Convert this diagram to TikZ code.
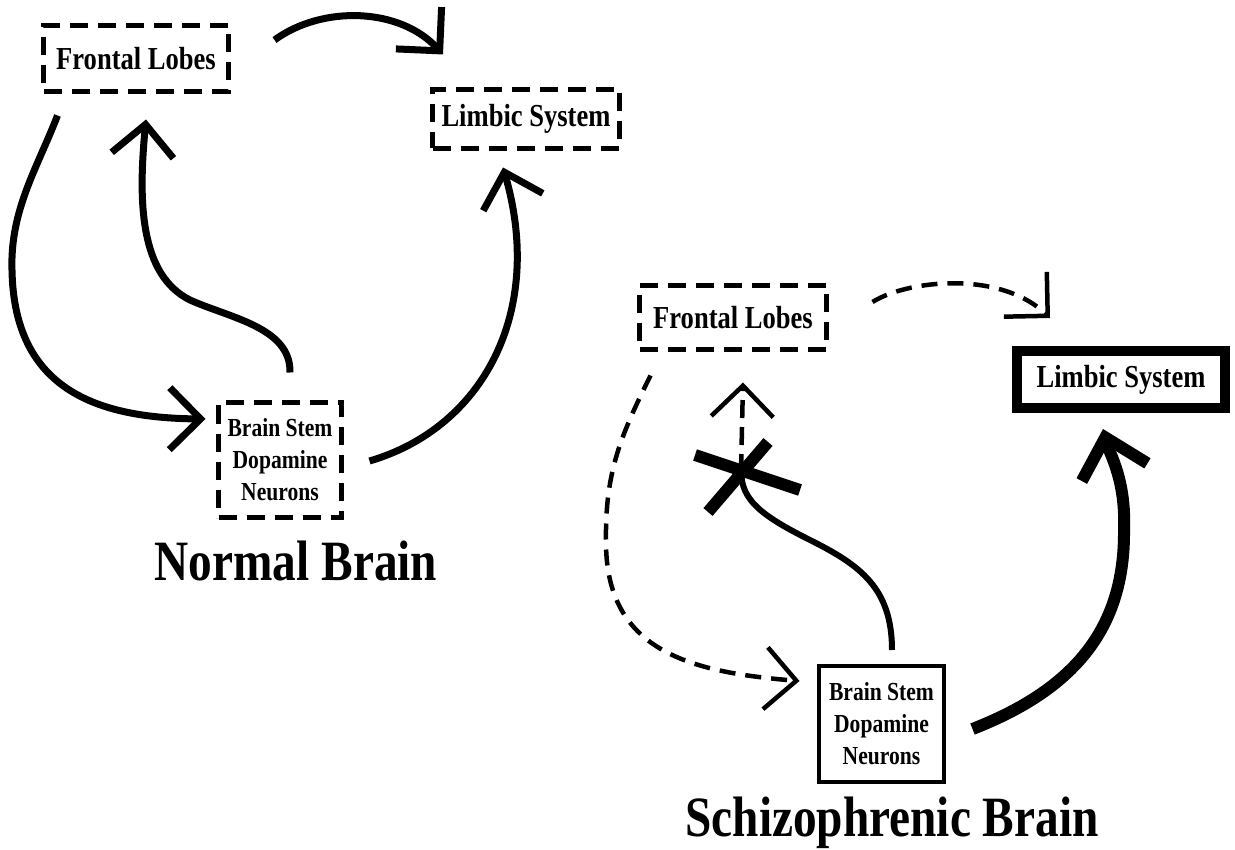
\documentclass[tikz,border=0pt]{standalone}
\usepackage{fontspec}
\newfontfamily\condserif[FakeStretch=0.83]{Liberation Serif}
\usetikzlibrary{arrows.meta}
\tikzset{
  barb/.tip={Straight Barb[length=31pt,width=62pt]},
  bigbarb/.tip={Straight Barb[length=36pt,width=68pt]},
  dashbox/.style={draw,line width=5pt,dash pattern=on 18pt off 10pt,inner sep=0pt,align=center},
  linebox/.style={draw,inner sep=0pt,align=center},
  boxlabel/.style={font=\condserif\bfseries\fontsize{32}{36}\selectfont},
  stemlabel/.style={font=\condserif\bfseries\fontsize{26}{32}\selectfont},
  brainlabel/.style={font=\condserif\bfseries\fontsize{57}{60}\selectfont,anchor=base},
  flow/.style={line width=7pt,-barb},
  weak/.style={line width=4.5pt,dash pattern=on 16pt off 10pt,-barb}
}

\begin{document}
\begin{tikzpicture}[x=1pt,y=-1pt]
\useasboundingbox (0,0) rectangle (1235,850);
\node[dashbox,boxlabel,minimum width=185pt,minimum height=66pt] (flN) at (136,58.5) {Frontal Lobes};
\node[dashbox,boxlabel,minimum width=187pt,minimum height=59pt] (lsN) at (526,119) {Limbic System};
\node[dashbox,stemlabel,minimum width=123pt,minimum height=115pt] (bsN) at (280,460) {Brain Stem\\Dopamine\\Neurons};
\node[brainlabel] (nb) at (296,580) {Normal Brain};
\draw[flow] ([shift={(43.5,-18.5)}]flN.east) .. controls +(48,-35) and +(-43,-47) .. ([shift={(-83,-32.5)}]lsN.north);
\draw[flow] ([shift={(10,-27.5)}]bsN.north) .. controls +(1,-45) and +(40,18) .. (190,300) .. controls +(-50,-25) and +(-8,83) .. ([shift={(10,25.5)}]flN.south);
\draw[flow] ([shift={(16.5,21.5)}]flN.south west) .. controls +(-20,52) and +(-2,-60) .. (12,270) .. controls +(2,120) and +(-108,-1) .. ([shift={(-10.5,-41)}]bsN.west);
\draw[flow] ([shift={(25.5,1)}]bsN.east) .. controls +(113,-33) and +(42,145) .. ([shift={(-23,16.5)}]lsN.south);

\node[dashbox,boxlabel,minimum width=187pt,minimum height=64pt] (flS) at (733,317.5) {Frontal Lobes};
\node[linebox,boxlabel,line width=10pt,minimum width=208pt,minimum height=57pt] (lsS) at (1121,379.5) {Limbic System};
\node[linebox,stemlabel,line width=4pt,minimum width=125pt,minimum height=116pt] (bsS) at (881.5,724) {Brain Stem\\Dopamine\\Neurons};
\node[brainlabel] (sb) at (892,836) {Schizophrenic Brain};
\coordinate (blk) at (741,472);
\draw[weak] ([shift={(43.5,-15.5)}]flS.east) .. controls +(35,-22) and +(-50,-48) .. ([shift={(-71,-28)}]lsS.north);
\draw[weak] ([shift={(13.5,23.5)}]flS.south west) .. controls +(-28,57) and +(-1,-70) .. (606,540) .. controls +(-1,110) and +(-112,-9) .. ([shift={(-17.5,-43)}]bsS.west);
\draw[weak,dash pattern=on 18pt off 9pt] (blk) -- ([shift={(10,30.5)}]flS.south);
\draw[line width=6pt] ([shift={(10.5,-14)}]bsS.north) .. controls +(0,-62) and +(50,25) .. (810,540) .. controls +(-50,-25) and +(1,28) .. (blk);
\draw[line width=12pt,-bigbarb] ([shift={(26.5,5)}]bsS.east) .. controls +(100,-39) and +(1,100) .. (1124,530) .. controls +(2,-50) and +(7,26) .. ([shift={(-18,16)}]lsS.south);
\draw[line width=12pt] ([shift={(-46,-17)}]blk) -- ([shift={(59,18)}]blk) ([shift={(-33,40)}]blk) -- ([shift={(27,-30)}]blk);
\end{tikzpicture}
\end{document}
